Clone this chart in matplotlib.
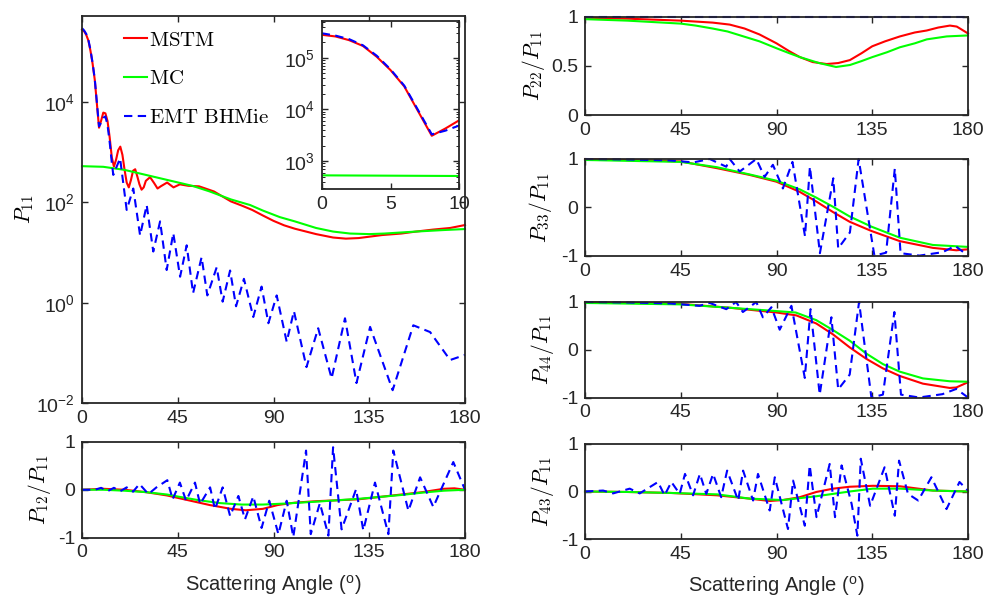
import numpy as np
import matplotlib

matplotlib.use("Agg")
import matplotlib.pyplot as plt
from matplotlib.ticker import LogLocator, NullLocator, FixedLocator

plt.rcParams["font.family"] = ["Liberation Sans", "DejaVu Sans"]
plt.rcParams["mathtext.fontset"] = "cm"
plt.rcParams["axes.unicode_minus"] = False

W, H = 989, 606
RED, GREEN, BLUE = "#ff0000", "#00ff00", "#0000ff"
LW = 1.5
DASH = (0, (4, 2.6))
XTICKS = [0, 45, 90, 135, 180]

# ---- P11 (main panel + inset) ----
ang_p11_mstm = [0, 1, 2, 3, 4, 5, 6, 7, 8, 9, 10, 11, 12, 13, 14, 15, 16, 17, 18, 19, 20,
                21, 22, 23, 24, 25, 26, 27, 28, 29, 30, 32, 34, 35.5, 37, 40, 43, 46, 50,
                55, 58, 62, 66, 70, 75, 80, 85, 90, 95, 100, 110, 118, 124, 130, 141,
                150, 157, 165, 173, 180]
p11_mstm = [2.8e5, 2.6e5, 2.2e5, 1.7e5, 1.05e5, 5.8e4, 2.8e4, 9.3e3, 3.1e3, 4.3e3, 6.2e3,
            6.0e3, 4.2e3, 2.0e3, 800, 520, 710, 1100, 1300, 890, 450,
            250, 200, 280, 430, 460, 330, 230, 180, 200, 270, 320, 240, 190, 210, 250, 200,
            230, 215, 210, 190, 166, 132, 105, 87, 71, 55, 43, 35, 30, 23.4, 20, 19,
            19.5, 22.4, 24, 26.3, 28.8, 31, 35.5]
ang_p11_mc = [0, 10, 20, 30, 40, 52, 60, 70, 79, 85, 93, 100, 110, 118, 126, 135, 142,
              157, 170, 180]
p11_mc = [530, 515, 447, 355, 282, 214, 166, 115, 89, 69, 51, 42, 31, 26.3, 24, 23.4, 24,
          26.3, 28.2, 29.5]
ang_p11_emt = [0, 1, 2, 3, 4, 5, 6, 7, 8, 9, 10, 11, 12, 13, 14, 14.7, 17.9, 21, 24.1,
               27.3, 30.4, 33.5, 36.7, 39.8, 42.9, 46.1, 49.2, 52.2, 56.2, 58.9, 63.3,
               66.1, 69.6, 72.4, 76.1, 80.5, 84.4, 87.6, 91.5, 96.2, 99.6, 105.5, 111,
               117.3, 123.6, 129, 135.4, 146, 155.7, 163.6, 173, 180]
p11_emt = [3.0e5, 2.7e5, 2.3e5, 1.75e5, 1.1e5, 6.0e4, 2.9e4, 9.8e3, 3.3e3, 3.9e3, 4.9e3,
           5.2e3, 3.5e3, 1.6e3, 630, 355, 760, 71, 190, 22, 89, 10.5, 42, 4.5, 24.5, 3.3,
           14, 1.55, 8.1, 1.4, 5.1, 1.05, 4.4, 0.85, 3.0, 0.52, 2.1, 0.39, 1.4, 0.166,
           0.68, 0.052, 0.31, 0.031, 0.49, 0.025, 0.33, 0.018, 0.355, 0.26, 0.072, 0.091]

# ---- P12/P11 ----
ang_p12_mstm = [0, 10, 20, 30, 40, 50, 60, 70, 77, 85, 92, 100, 110, 120, 130, 140, 150,
                160, 170, 175, 180]
p12_mstm = [0, 0.02, 0.0, -0.05, -0.12, -0.22, -0.32, -0.40, -0.43, -0.40, -0.32, -0.27,
            -0.24, -0.22, -0.20, -0.15, -0.10, -0.05, 0.02, 0.03, 0.0]
ang_p12_mc = [0, 10, 20, 30, 40, 46, 55, 65, 75, 85, 95, 110, 120, 130, 140, 150, 160,
              170, 180]
p12_mc = [0, 0.0, -0.02, -0.05, -0.10, -0.15, -0.22, -0.28, -0.31, -0.31, -0.29, -0.25,
          -0.22, -0.19, -0.15, -0.11, -0.06, -0.02, 0.0]
ang_p12_emt = [0, 6, 9, 12, 15, 18, 21, 24, 27, 31.2, 35, 40.1, 42.6, 46, 48.9, 53.1, 55.5,
               60.2, 62.5, 66.1, 69.6, 73.5, 76.6, 80.5, 84.4, 88, 92.3, 96.2, 99.3, 105.3,
               107.5, 111.8, 115.8, 118, 122, 128.8, 132.2, 137.7, 144, 146.3, 153.4,
               158.9, 165.1, 174.5, 180]
p12_emt = [0, 0.0, 0.04, -0.03, 0.04, -0.03, 0.05, -0.04, 0.12, -0.09, 0.05, 0.20, -0.20,
           0.15, -0.23, 0.15, -0.30, 0.05, -0.41, 0.05, -0.55, -0.13, -0.62, -0.14, -0.80,
           -0.23, -0.93, -0.23, -0.99, 0.82, -0.93, -0.28, -0.96, 0.89, -0.83, 0.01, -0.85,
           0.15, -0.93, 0.82, -0.44, 0.26, -0.36, 0.58, 0.0]

# ---- P22/P11 ----
ang_p22_mstm = [0, 20, 45, 60, 68, 75, 82, 90, 96, 101, 107, 113.6, 119, 124.5, 130, 135,
                141, 148, 155, 160.6, 166, 171.5, 174.7, 177, 180]
p22_mstm = [0.99, 0.98, 0.96, 0.94, 0.92, 0.88, 0.82, 0.73, 0.65, 0.59, 0.54, 0.52, 0.53,
            0.56, 0.63, 0.70, 0.75, 0.80, 0.84, 0.86, 0.89, 0.91, 0.90, 0.87, 0.83]
ang_p22_mc = [0, 20, 45, 52, 60, 67, 73, 82, 90, 96, 101, 110, 118, 124.5, 130, 135, 142,
              148, 155, 160.6, 170, 180]
p22_mc = [0.975, 0.96, 0.93, 0.91, 0.88, 0.85, 0.81, 0.75, 0.68, 0.63, 0.59, 0.53, 0.49,
          0.51, 0.55, 0.59, 0.64, 0.69, 0.73, 0.77, 0.80, 0.81]
ang_p22_emt = [0, 180]
p22_emt = [1.0, 1.0]

# ---- P33/P11 ----
ang_p33_mstm = [0, 45, 62, 77.4, 90, 100.9, 108.7, 116.6, 124.4, 134.6, 147.9, 163.5,
                174.5, 180]
p33_mstm = [1.0, 0.95, 0.81, 0.67, 0.53, 0.32, 0.12, -0.10, -0.30, -0.49, -0.70, -0.84,
            -0.89, -0.87]
ang_p33_mc = [0, 45, 62, 77.4, 90, 101, 108.7, 116.6, 124.4, 134.6, 148, 163.5, 180]
p33_mc = [0.98, 0.94, 0.83, 0.68, 0.55, 0.37, 0.20, 0.01, -0.19, -0.40, -0.63, -0.78,
          -0.82]
ang_p33_emt = [0, 20, 40, 51, 58.6, 66.4, 68, 72.7, 80.5, 84.4, 88.3, 93, 97.5, 103.4,
               105.7, 110.4, 116.7, 119, 124.5, 128.6, 136, 141.5, 145.6, 148.3, 157.2,
               168, 174, 180]
p33_emt = [1.0, 0.99, 0.97, 0.93, 1.0, 0.84, 1.0, 0.74, 1.0, 0.63, 0.88, 0.39, 0.94, -0.60,
           0.84, -0.95, 0.60, -0.85, -0.52, 1.0, -1.0, -0.94, 0.80, -0.95, -1.0, -0.93,
           -0.80, -1.0]

# ---- P44/P11 ----
ang_p44_mstm = [0, 45, 68, 90, 99.3, 108.7, 116.6, 124.4, 132.2, 140, 148, 158.8, 171.4,
                174.5, 180]
p44_mstm = [1.0, 0.96, 0.88, 0.78, 0.72, 0.55, 0.32, 0.05, -0.19, -0.39, -0.55, -0.71,
            -0.80, -0.79, -0.68]
ang_p44_mc = [0, 45, 68, 90, 99, 108.7, 116.6, 124.4, 132.2, 140, 148, 158.8, 171.4, 180]
p44_mc = [0.98, 0.95, 0.88, 0.81, 0.78, 0.62, 0.41, 0.19, -0.08, -0.30, -0.46, -0.60,
          -0.66, -0.67]
ang_p44_emt = [0, 20, 40, 53.8, 58.6, 66.4, 71, 74.2, 80.5, 83.6, 87.6, 91.5, 97, 103.3,
               106, 110.3, 115.8, 119, 124.4, 128.8, 134.6, 140, 145.4, 148.5, 157, 168,
               174.5, 180]
p44_emt = [1.0, 0.99, 0.97, 0.92, 0.98, 0.85, 1.0, 0.79, 1.0, 0.68, 0.89, 0.42, 0.92, -0.59,
           0.85, -0.94, 0.68, -0.83, -0.52, 1.0, -1.0, -0.94, 0.79, -0.94, -1.0, -0.93,
           -0.82, -1.0]

# ---- P43/P11 ----
ang_p43_mstm = [0, 20, 40, 62, 77.4, 86.8, 93, 100.9, 108.7, 116.6, 124.4, 135.3, 148,
                163.5, 180]
p43_mstm = [0, -0.01, -0.03, -0.08, -0.15, -0.20, -0.18, -0.12, -0.01, 0.06, 0.10, 0.12,
            0.11, 0.02, 0.0]
ang_p43_mc = [0, 20, 40, 62, 77.4, 93, 108.7, 116.6, 124.4, 135.3, 148, 163.5, 180]
p43_mc = [0, -0.01, -0.03, -0.06, -0.15, -0.18, -0.10, -0.05, 0.0, 0.06, 0.06, 0.02, 0.0]
ang_p43_emt = [0, 8.5, 13.2, 21, 25.7, 34.3, 37.4, 40.6, 44.5, 47, 50.8, 54, 57, 60.2, 64,
               66.8, 72, 74.3, 79, 81.3, 86.8, 89.2, 95.4, 97.8, 103.3, 105.6, 108.8, 115,
               117.5, 120.6, 125.3, 128, 129.6, 134, 140.8, 145.6, 147.6, 151.8, 156.6,
               162.8, 169.9, 176, 180]
p43_emt = [0, 0.02, -0.04, 0.06, -0.04, 0.20, -0.08, 0.20, -0.05, 0.37, -0.08, 0.37, -0.05,
           0.37, -0.12, 0.44, -0.19, 0.44, -0.19, 0.37, -0.40, 0.30, -0.79, 0.23, -0.72,
           0.55, -0.54, 0.58, -0.54, 0.55, -0.26, -0.93, 0.69, -0.30, 0.51, -0.51, 0.65,
           -0.05, -0.19, 0.30, -0.37, 0.20, 0.02]

XLABEL = r"Scattering Angle ($^{\mathdefault{o}}$)"


def rect(l, t, r, b):
    return [l / W, 1 - b / H, (r - l) / W, (b - t) / H]


def style(ax):
    ax.tick_params(direction="in", top=True, right=True, length=4, width=1.0,
                   labelsize=14, pad=5, colors="#262626")
    ax.tick_params(which="minor", direction="in", top=True, right=True, length=2)
    for s in ax.spines.values():
        s.set_linewidth(1.3)
        s.set_color("#262626")


def draw(ax, a1, v1, a2, v2, a3, v3, clip=False):
    ax.plot(a1, v1, color=RED, lw=LW, label=r"$\mathrm{MSTM}$", clip_on=clip)
    ax.plot(a2, v2, color=GREEN, lw=LW, label=r"$\mathrm{MC}$", clip_on=clip)
    ax.plot(a3, v3, color=BLUE, lw=LW, ls=DASH, label=r"$\mathrm{EMT\ BHMie}$", clip_on=clip)


fig = plt.figure(figsize=(W / 100, H / 100), dpi=100)

# main P11 panel
ax = fig.add_axes(rect(82, 16, 465, 403))
draw(ax, ang_p11_mstm, p11_mstm, ang_p11_mc, p11_mc, ang_p11_emt, p11_emt)
ax.set_yscale("log")
ax.set_xlim(0, 180)
ax.set_ylim(1e-2, 10 ** 5.72)
ax.set_xticks(XTICKS)
ax.yaxis.set_major_locator(FixedLocator([1e-2, 1e0, 1e2, 1e4]))
ax.yaxis.set_minor_locator(NullLocator())
style(ax)
ax.set_ylabel(r"$P_{11}$", fontsize=15.5)
ax.yaxis.set_label_coords(-0.12, 0.5)
ax.legend(loc="upper left", bbox_to_anchor=(0.071, 1.0), frameon=False, fontsize=15,
          handlelength=1.1, handletextpad=0.1, labelspacing=0.95, borderaxespad=0.3)

# inset
axi = fig.add_axes(rect(321.7, 20.7, 459.3, 189))
draw(axi, ang_p11_mstm, p11_mstm, ang_p11_mc, p11_mc, ang_p11_emt, p11_emt, clip=True)
axi.set_yscale("log")
axi.set_xlim(0, 10)
axi.set_ylim(10 ** 2.46, 10 ** 5.72)
axi.set_xticks([0, 5, 10])
axi.yaxis.set_major_locator(FixedLocator([1e3, 1e4, 1e5]))
axi.yaxis.set_minor_locator(LogLocator(base=10, subs=np.arange(2, 10)))
style(axi)

# P12/P11
ax12 = fig.add_axes(rect(82, 442, 465, 537.5))
draw(ax12, ang_p12_mstm, p12_mstm, ang_p12_mc, p12_mc, ang_p12_emt, p12_emt)
ax12.set_xlim(0, 180)
ax12.set_ylim(-1, 1)
ax12.set_xticks(XTICKS)
ax12.set_yticks([-1, 0, 1])
style(ax12)
ax12.set_ylabel(r"$P_{12}/P_{11}$", fontsize=15.5)
ax12.yaxis.set_label_coords(-0.075, 0.5)
ax12.set_xlabel(XLABEL, fontsize=14.5, color="#262626", labelpad=9)

right = [
    ((585, 16.7, 968, 115.3), r"$P_{22}/P_{11}$", (ang_p22_mstm, p22_mstm, ang_p22_mc, p22_mc, ang_p22_emt, p22_emt), (0, 1), [0, 0.5, 1], -0.1),
    ((585, 159, 968, 255.6), r"$P_{33}/P_{11}$", (ang_p33_mstm, p33_mstm, ang_p33_mc, p33_mc, ang_p33_emt, p33_emt), (-1, 1), [-1, 0, 1], -0.08),
    ((585, 302, 968, 397.5), r"$P_{44}/P_{11}$", (ang_p44_mstm, p44_mstm, ang_p44_mc, p44_mc, ang_p44_emt, p44_emt), (-1, 1), [-1, 0, 1], -0.075),
    ((585, 444, 968, 539), r"$P_{43}/P_{11}$", (ang_p43_mstm, p43_mstm, ang_p43_mc, p43_mc, ang_p43_emt, p43_emt), (-1, 1), [-1, 0, 1], -0.075),
]
for box, lab, data, ylim, yt, lx in right:
    a = fig.add_axes(rect(*box))
    draw(a, *data)
    a.set_xlim(0, 180)
    a.set_ylim(*ylim)
    a.set_xticks(XTICKS)
    a.set_yticks(yt)
    a.set_yticklabels([f"{v:g}" for v in yt])
    style(a)
    a.set_ylabel(lab, fontsize=15.5)
    a.yaxis.set_label_coords(lx, 0.5)
a.set_xlabel(XLABEL, fontsize=14.5, color="#262626", labelpad=9)

fig.savefig("out.png", dpi=100)
